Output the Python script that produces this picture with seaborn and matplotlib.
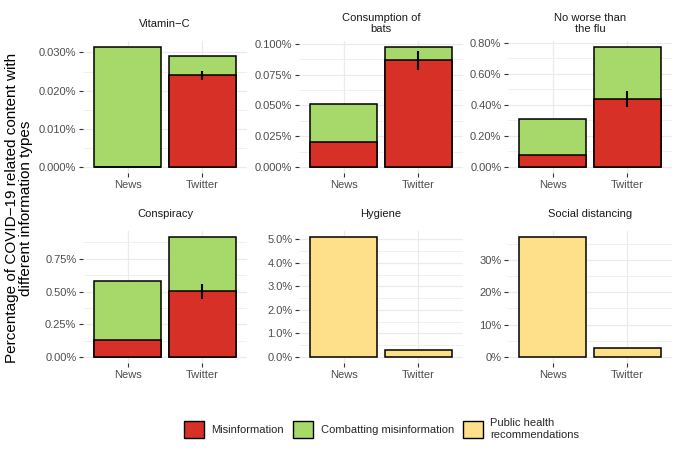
import numpy as np
import pandas as pd
import matplotlib
matplotlib.use("Agg")
import matplotlib.pyplot as plt
import seaborn as sns
from matplotlib.patches import Patch
from matplotlib.ticker import MultipleLocator, FuncFormatter

# ---------------- data (values in percent) ----------------
topics = ["Vitamin\u2212C", "Consumption of\nbats", "No worse than\nthe flu",
          "Conspiracy", "Hygiene", "Social distancing"]
sources = ["News", "Twitter"]
misinfo_news = [0.0, 0.0202, 0.080, 0.130, 0.0, 0.0]
misinfo_twitter = [0.0242, 0.0866, 0.439, 0.502, 0.0, 0.0]
combat_news = [0.0315, 0.0308, 0.231, 0.451, 0.0, 0.0]
combat_twitter = [0.0049, 0.0112, 0.337, 0.417, 0.0, 0.0]
health_news = [0.0, 0.0, 0.0, 0.0, 5.115, 37.1]
health_twitter = [0.0, 0.0, 0.0, 0.0, 0.30, 2.8]
err_low = [0.0229, 0.0788, 0.389, 0.443, None, None]
err_high = [0.0252, 0.0940, 0.489, 0.560, None, None]
tick_step = [0.01, 0.025, 0.2, 0.25, 1.0, 10.0]
tick_decimals = [3, 3, 2, 2, 1, 0]

legend_labels = ["Misinformation", "Combatting misinformation",
                 "Public health\nrecommendations"]
colors = ["#D73027", "#A6D96A", "#FEE08B"]
ylabel = "Percentage of COVID\u221219 related content with\ndifferent information types"

# ---------------- style ----------------
sns.set_theme(style="white")
plt.rcParams["font.family"] = ["Liberation Sans", "DejaVu Sans"]

W, H = 680, 454
fig = plt.figure(figsize=(W / 100, H / 100), dpi=100)

col_left = [83, 299, 508]
panel_w = 164
row_top = [40.7, 230.7]
panel_h = 132.3

for i, topic in enumerate(topics):
    r, c = divmod(i, 3)
    ax = fig.add_axes([col_left[c] / W, 1 - (row_top[r] + panel_h) / H,
                       panel_w / W, panel_h / H])
    mis = [misinfo_news[i], misinfo_twitter[i]]
    com = [combat_news[i], combat_twitter[i]]
    hea = [health_news[i], health_twitter[i]]
    total = [m + k for m, k in zip(mis, com)]
    df = pd.DataFrame({"source": sources, "mis": mis, "total": total, "health": hea})
    kw = dict(width=0.9, edgecolor="black", linewidth=1.1, saturation=1,
              errorbar=None, ax=ax, zorder=3)
    if sum(total) > 0:
        sns.barplot(data=df, x="source", y="total", color=colors[1], **kw)
        sns.barplot(data=df, x="source", y="mis", color=colors[0], **kw)
    if sum(hea) > 0:
        sns.barplot(data=df, x="source", y="health", color=colors[2], **kw)
    if err_low[i] is not None:
        xi = sources.index("Twitter")
        ax.errorbar([xi], [mis[1]],
                    yerr=[[mis[1] - err_low[i]], [err_high[i] - mis[1]]],
                    fmt="none", ecolor="black", elinewidth=1.5, capsize=0, zorder=4)
    ymax = max(max(total), max(hea))
    ax.set_ylim(-0.05 * ymax, 1.05 * ymax)
    ax.set_xlim(-0.6, 1.6)
    step = tick_step[i]
    d = tick_decimals[i]
    ax.yaxis.set_major_locator(MultipleLocator(step))
    ax.yaxis.set_minor_locator(MultipleLocator(step / 2))
    ax.yaxis.set_major_formatter(FuncFormatter(lambda v, _, d=d: f"{v:.{d}f}%"))
    ax.grid(which="major", axis="both", color="#EBEBEB", linewidth=0.9, zorder=0)
    ax.grid(which="minor", axis="y", color="#EEEEEE", linewidth=0.6, zorder=0)
    ax.set_axisbelow(True)
    for s in ax.spines.values():
        s.set_visible(False)
    ax.set_xlabel("")
    ax.set_ylabel("")
    ax.tick_params(axis="both", which="major", length=2.7, width=0.8, color="#333333",
                   labelcolor="#4D4D4D", labelsize=8, bottom=True, left=True)
    ax.tick_params(axis="x", pad=2.5)
    ax.tick_params(axis="y", pad=2)
    ax.tick_params(which="minor", length=0)
    ax.annotate(topic, xy=(0.5, 1), xycoords="axes fraction", xytext=(0, 17),
                textcoords="offset pixels", ha="center", va="center",
                fontsize=8, color="#1A1A1A", linespacing=1.05, multialignment="center")

fig.text(19 / W, 1 - 208 / H, ylabel, rotation=90, ha="center", va="center",
         fontsize=11, color="black", multialignment="center", linespacing=1.0)

handles = [Patch(facecolor=c, edgecolor="black", linewidth=1.0, label=l)
           for c, l in zip(colors, legend_labels)]
fig.legend(handles=handles, loc="center", bbox_to_anchor=(381.5 / W, 1 - 429 / H),
           ncol=3, frameon=False, fontsize=8, handlelength=1.8, handleheight=1.9,
           handletextpad=0.7, columnspacing=0.8, labelspacing=0.3)

fig.savefig("out.png", dpi=100, facecolor="white")
